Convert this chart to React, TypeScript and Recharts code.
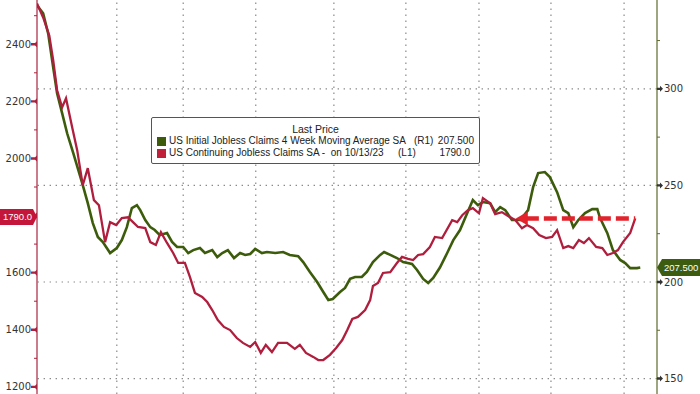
import React from "react";
import { LineChart, Line, XAxis, YAxis, ReferenceLine, ReferenceDot } from "recharts";

// weekly position (weeks since start) and values
const initialWeeks = [0,1.1,2.0,2.9,3.6,4.5,5.4,6.5,8.1,9.1,10.0,10.9,11.8,13.1,14.3,15.2,16.1,17.0,17.9,18.5,19.4,20.3,21.1,22.0,23.3,24.2,25.1,26.2,27.1,28.0,29.2,30.1,31.4,32.3,33.2,34.2,35.3,36.4,37.3,38.2,39.1,40.3,41.2,42.7,44.1,45.3,46.8,47.7,48.9,50.2,51.3,52.2,53.0,54.3,55.2,56.1,57.0,58.2,59.1,60.2,61.5,62.2,63.3,64.5,65.6,67.2,68.1,69.2,70.1,71.0,72.2,73.5,74.6,75.8,77.1,78.1,79.0,79.9,81.2,82.1,83.0,83.9,85.1,86.6,88.0,88.9,89.8,91.0,91.9,93.2,94.3,95.2,96.1,97.0,98.2,99.5,100.4,100.9,102.2,103.2,104.5,105.4,106.3,107.5,108.1];
const initialClaims4wk = [343.2,339.1,328.7,311.2,297.7,287.4,277.0,266.7,251.2,240.8,230.5,223.3,220.7,215.0,217.6,221.7,228.4,238.3,239.8,237.2,232.1,228.4,226.9,224.3,225.3,220.7,218.1,218.1,215.0,216.5,217.6,215.0,216.5,212.9,215.0,216.5,212.4,215.0,214.0,214.5,217.1,215.0,215.5,215.0,215.5,214.0,213.4,210.3,205.2,200.0,194.8,190.7,191.2,194.8,196.9,201.6,202.6,202.6,205.2,210.3,214.0,215.5,214.0,212.4,210.3,209.3,206.2,201.6,199.5,202.1,207.5,215.0,221.7,226.9,235.7,242.4,239.8,241.4,240.8,236.2,238.8,237.2,232.1,232.1,237.2,249.1,256.4,256.9,254.3,246.5,237.2,235.7,228.4,232.1,235.7,237.7,237.7,233.1,225.3,216.5,211.4,209.8,207.2,207.2,207.5];

const continuingWeeks = [0.0,1.1,2.2,2.9,3.6,4.5,5.2,6.3,7.2,8.2,9.1,10.2,11.1,12.2,13.1,14.2,15.2,16.3,17.2,18.1,19.4,20.3,21.3,22.2,23.3,24.4,25.3,26.5,27.4,28.3,29.6,30.5,31.4,32.4,33.5,34.6,35.8,36.9,38.2,39.1,40.1,41.0,42.1,43.2,44.8,46.2,47.1,48.2,49.5,50.4,51.3,52.5,53.6,54.7,55.6,56.5,57.5,58.8,59.7,60.2,61.1,62.0,63.3,64.5,65.4,66.5,67.4,68.3,69.2,70.4,71.3,72.6,74.4,75.3,76.2,77.2,78.1,79.2,79.9,81.2,82.1,83.3,84.2,85.7,86.9,87.8,88.9,90.0,91.2,92.3,93.2,94.3,95.2,96.1,97.1,98.0,98.9,100.2,101.3,102.2,103.2,104.1,105.0,106.3,107.2];
const continuingClaims = [2543,2494,2431,2344,2239,2179,2211,2109,2029,1906,1966,1854,1836,1707,1777,1767,1791,1794,1777,1760,1756,1707,1697,1742,1704,1669,1634,1634,1585,1529,1515,1497,1469,1434,1410,1399,1371,1354,1340,1357,1319,1347,1322,1354,1354,1333,1347,1319,1305,1294,1294,1312,1336,1364,1399,1438,1445,1469,1504,1553,1564,1599,1602,1634,1655,1648,1644,1662,1665,1690,1725,1721,1784,1777,1801,1819,1826,1808,1861,1843,1805,1812,1801,1784,1756,1767,1756,1732,1721,1725,1749,1686,1693,1686,1714,1704,1721,1690,1686,1662,1669,1679,1707,1739,1790];

const gridWeeks = [14.3, 26.2, 39.2, 53.2, 66.1, 79.2, 92.1, 105.2];
const leftTicks = [1200,1300,1400,1500,1600,1700,1800,1900,2000,2100,2200,2300,2400,2500];
const rightTicks = [150,175,200,225,250,275,300,325];
const rightGrid = [150, 200, 250, 300];
const arrowStart = 85.8;
const arrowLineStart = 87.6;
const arrowEnd = 107.2;
const arrowLevel = 1790;

const lastInitial = "207.500";
const lastContinuing = "1790.0";

const GREEN = "#3c5c0c";
const RED = "#b01e3e";
const AXIS_RED = "#a8233f";
const AXIS_GREEN = "#5d6b2c";
const DASH_RED = "#e3222b";
const FONT = "'DejaVu Sans', sans-serif";
const LFONT = "'Liberation Sans', Arial, sans-serif";

const greenData = initialWeeks.map((w, i) => ({ w, v: initialClaims4wk[i] }));
const redData = continuingWeeks.map((w, i) => ({ w, v: continuingClaims[i] }));

const LeftTick = (props: any) => {
  const { x, y, payload } = props;
  const v = payload.value;
  if (v % 200 !== 0) {
    return <line x1={x - 3} x2={x} y1={y} y2={y} stroke={AXIS_RED} strokeWidth={1} />;
  }
  return (
    <g>
      <polygon points={`${x - 6},${y - 1.2} ${x - 2},${y - 1.2} ${x},${y - 3} ${x},${y + 3} ${x - 2},${y + 1.2} ${x - 6},${y + 1.2}`} fill={AXIS_RED} />
      <text x={x - 6} y={y} dy={3.6} textAnchor="end" fontSize={10} fontFamily={FONT} fill="#333">{v}</text>
    </g>
  );
};

const RightTick = (props: any) => {
  const { x, y, payload } = props;
  const v = payload.value;
  if (v % 50 !== 0) {
    return <line x1={x} x2={x + 3} y1={y} y2={y} stroke={AXIS_GREEN} strokeWidth={1} />;
  }
  return (
    <g>
      <polygon points={`${x},${y - 1.2} ${x + 3},${y - 1.2} ${x + 3},${y - 3} ${x + 6},${y} ${x + 3},${y + 3} ${x + 3},${y + 1.2} ${x},${y + 1.2}`} fill="#333" />
      <text x={x + 7} y={y} dy={3.6} textAnchor="start" fontSize={10} fontFamily={FONT} fill="#333">{v}</text>
    </g>
  );
};

const ArrowHead = (props: any) => {
  const { cx, cy } = props;
  return <polygon points={`${cx},${cy} ${cx + 12},${cy - 7} ${cx + 12},${cy + 7}`} fill={DASH_RED} />;
};

const dotted = { stroke: "#8a8a8a", strokeDasharray: "1.4 4.6", strokeWidth: 1.2 };

export default function App() {
  return (
    <div style={{ position: "absolute", left: 0, top: 0, width: 700, height: 394, background: "#fff", overflow: "hidden" }}>
      <LineChart width={700} height={394} margin={{ top: 0, right: 0, bottom: 0, left: 0 }}>
        <XAxis type="number" dataKey="w" domain={[0, 111.1]} hide allowDataOverflow />
        <YAxis
          yAxisId="left"
          orientation="left"
          width={37}
          domain={[1175, 2555]}
          ticks={leftTicks}
          interval={0}
          tickSize={0}
          tickMargin={0}
          tickLine={false}
          axisLine={{ stroke: AXIS_RED, strokeWidth: 1.2 }}
          tick={<LeftTick />}
          allowDataOverflow
        />
        <YAxis
          yAxisId="right"
          orientation="right"
          width={43}
          domain={[142, 346]}
          ticks={rightTicks}
          interval={0}
          tickSize={0}
          tickMargin={0}
          tickLine={false}
          axisLine={{ stroke: AXIS_GREEN, strokeWidth: 1.2 }}
          tick={<RightTick />}
          allowDataOverflow
        />
        {gridWeeks.map((g) => (
          <ReferenceLine key={"v" + g} x={g} yAxisId="right" {...dotted} />
        ))}
        {rightGrid.map((g) => (
          <ReferenceLine key={"h" + g} y={g} yAxisId="right" {...dotted} />
        ))}
        <Line
          yAxisId="right"
          data={greenData}
          dataKey="v"
          type="linear"
          stroke={GREEN}
          strokeWidth={2.6}
          dot={false}
          isAnimationActive={false}
        />
        <Line
          yAxisId="left"
          data={redData}
          dataKey="v"
          type="linear"
          stroke={RED}
          strokeWidth={2.3}
          dot={false}
          isAnimationActive={false}
        />
        <ReferenceLine
          yAxisId="left"
          segment={[{ x: arrowLineStart, y: arrowLevel }, { x: arrowEnd, y: arrowLevel }]}
          stroke={DASH_RED}
          strokeWidth={4.5}
          strokeDasharray="13 5"
        />
        <ReferenceDot yAxisId="left" x={arrowStart} y={arrowLevel} r={7} shape={<ArrowHead />} />
      </LineChart>

      <div
        style={{
          position: "absolute", left: 151, top: 117, width: 329, height: 47,
          border: "1px solid #555", borderRadius: 2, background: "#fff", boxSizing: "border-box",
          fontFamily: LFONT, fontSize: 10, color: "#222", lineHeight: "12px",
        }}
      >
        <div style={{ position: "absolute", left: 0, right: 0, top: 5, textAlign: "center", fontSize: 10.5 }}>Last Price</div>
        <div style={{ position: "absolute", left: 5, top: 19, width: 9, height: 9, background: GREEN }} />
        <div style={{ position: "absolute", left: 17, top: 17, whiteSpace: "pre" }}>US Initial Jobless Claims 4 Week Moving Average SA</div>
        <div style={{ position: "absolute", left: 262, top: 17 }}>(R1)</div>
        <div style={{ position: "absolute", right: 5, top: 17 }}>{lastInitial}</div>
        <div style={{ position: "absolute", left: 5, top: 31, width: 9, height: 9, background: "#c0203a" }} />
        <div style={{ position: "absolute", left: 17, top: 29, whiteSpace: "pre" }}>US Continuing Jobless Claims SA -  on 10/13/23</div>
        <div style={{ position: "absolute", left: 246, top: 29 }}>(L1)</div>
        <div style={{ position: "absolute", right: 9, top: 29 }}>{lastContinuing}</div>
      </div>

      <div
        style={{
          position: "absolute", left: 0, top: 209, width: 37, height: 16, background: "#c4163a",
          clipPath: "polygon(0 0, 33px 0, 37px 50%, 33px 100%, 0 100%)",
          color: "#fff", fontFamily: LFONT, fontSize: 9.5, lineHeight: "16px", paddingLeft: 3, boxSizing: "border-box", whiteSpace: "nowrap",
        }}
      >
        {lastContinuing}
      </div>
      <div
        style={{
          position: "absolute", left: 657, top: 259, width: 43, height: 17, background: "#3d5c10",
          clipPath: "polygon(0 50%, 5px 0, 100% 0, 100% 100%, 5px 100%)",
          color: "#fff", fontFamily: LFONT, fontSize: 9.5, lineHeight: "17px", paddingLeft: 7, boxSizing: "border-box", whiteSpace: "nowrap",
        }}
      >
        {lastInitial}
      </div>
    </div>
  );
}
